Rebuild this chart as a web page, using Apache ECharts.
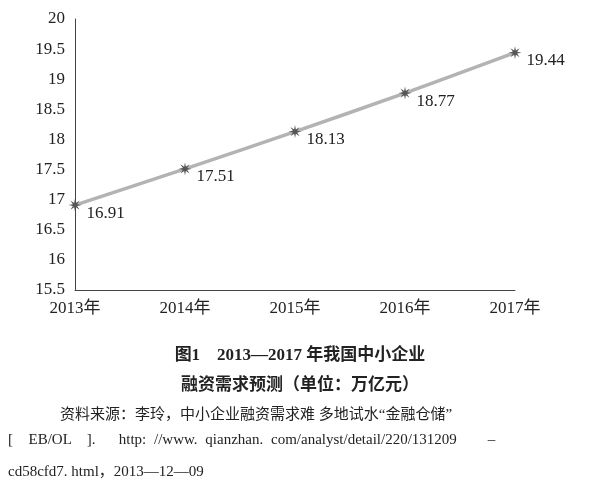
<!DOCTYPE html>
<html><head><meta charset="utf-8">
<script src="https://cdn.jsdelivr.net/npm/echarts@6/dist/echarts.min.js"></script>
<style>
body{margin:0;background:#fff}
#c{width:600px;height:502px}
.t{position:absolute;font-family:"Liberation Serif","Noto Sans CJK SC",serif;color:#222}
</style></head><body>
<div id="c"></div>
<div class="t" style="left:0;width:600px;top:340px;text-align:center;font-size:17px;font-weight:bold">图1　2013—2017 年我国中小企业</div>
<div class="t" style="left:0;width:600px;top:370px;text-align:center;font-size:17px;font-weight:bold">融资需求预测（单位：万亿元）</div>
<div class="t" style="left:60px;top:402px;font-size:15px">资料来源：李玲，中小企业融资需求难 多地试水“金融仓储”</div>
<div class="t" style="left:8px;top:431px;font-size:15px;word-spacing:4px">[&nbsp; EB/OL &nbsp;]. &nbsp; http: //www. qianzhan. com/analyst/detail/220/131209 &nbsp; &nbsp;–</div>
<div class="t" style="left:8px;top:459px;font-size:15px">cd58cfd7. html，2013—12—09</div>
<script>
var years = ['2013年', '2014年', '2015年', '2016年', '2017年'];
var demand = [16.91, 17.51, 18.13, 18.77, 19.44];

// asterisk marker path
var pts = [];
for (var i = 0; i < 16; i++) {
  var a = Math.PI * i / 8, r = i % 2 ? 3.5 : 10;
  pts.push((10 + r * Math.sin(a)).toFixed(2) + ' ' + (10 - r * Math.cos(a)).toFixed(2));
}
var star = 'path://M' + pts.join(' L') + ' Z';

var chart = echarts.init(document.getElementById('c'));
chart.setOption({
  textStyle: {fontFamily: 'Liberation Serif, Noto Sans CJK SC, serif'},
  grid: {left: 75, right: 85, top: 19, bottom: 212},
  xAxis: {
    type: 'category', boundaryGap: false, data: years,
    axisLine: {lineStyle: {color: '#444'}},
    axisTick: {show: false},
    axisLabel: {color: '#222', fontSize: 17, margin: 10}
  },
  yAxis: {
    type: 'value', min: 15.5, max: 20, interval: 0.5,
    axisLine: {show: true, lineStyle: {color: '#444'}},
    axisTick: {show: false},
    splitLine: {show: false},
    axisLabel: {color: '#222', fontSize: 17, margin: 10}
  },
  series: [{
    type: 'line', data: demand, smooth: 0.3,
    symbol: star, symbolSize: 13,
    itemStyle: {color: '#555'},
    lineStyle: {color: '#b3b3b3', width: 3.5},
    label: {show: true, position: 'right', offset: [0, 8], color: '#222', fontSize: 17}
  }]
});
</script>
</body></html>
